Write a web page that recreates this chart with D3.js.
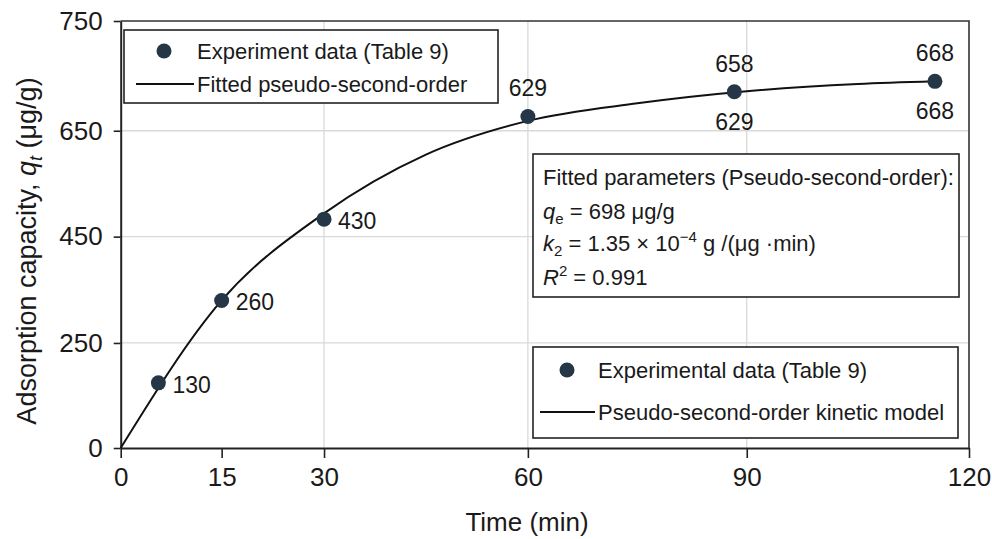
<!DOCTYPE html>
<html><head><meta charset="utf-8">
<script src="https://cdn.jsdelivr.net/npm/d3@7"></script>
<style>
body{margin:0;background:#fff}
svg{display:block}
text{font-family:"Liberation Sans",Arial,sans-serif;fill:#1a1a1a}
</style>
</head><body>
<svg id="c" width="992" height="539"></svg>
<script>
// ---- data ----
const xTicks = [0, 15, 30, 60, 90, 120];
const yTicks = [0, 250, 450, 650, 750];
const expTime = [5.6, 15, 30, 60, 88.3, 115.4];
const expQ = [155, 330, 483, 663, 685.5, 695];
const expLabels = ["130", "260", "430", "629", "658", "668"];
const expLabelsBelow = ["", "", "", "", "629", "668"];
const fitTime = [0, 15, 30, 45, 60, 75, 90, 105, 115.4];
const fitQ = [0, 330, 494, 605, 659, 675, 686, 692.5, 695];
const gridX = [30, 60, 90];
const gridY = [250, 450, 650];

// ---- layout ----
const svg = d3.select("#c");
const L = 120.7, R = 969, T = 21, B = 448;
const xFrac = [0, 0.119, 0.2397, 0.480, 0.738, 1];
const yFrac = [0, 0.246, 0.495, 0.743, 1];
const x = d3.scaleLinear().domain(xTicks).range(xFrac.map(f => L + f * (R - L)));
const y = d3.scaleLinear().domain(yTicks).range(yFrac.map(f => B - f * (B - T)));

// grid
svg.append("g").selectAll("line").data(gridY).join("line")
  .attr("x1", L).attr("x2", R).attr("y1", d => y(d)).attr("y2", d => y(d))
  .attr("stroke", "#d9d9d9").attr("stroke-width", 1.3);
svg.append("g").selectAll("line").data(gridX).join("line")
  .attr("y1", T).attr("y2", B).attr("x1", d => x(d)).attr("x2", d => x(d))
  .attr("stroke", "#d9d9d9").attr("stroke-width", 1.3);

// frame top/right
svg.append("path").attr("d", `M${L},${T}H${R}V${B}`)
  .attr("fill", "none").attr("stroke", "#333").attr("stroke-width", 1.6);

// axes
const xa = svg.append("g").attr("transform", `translate(0,${B})`)
  .call(d3.axisBottom(x).tickValues(xTicks).tickSize(10).tickSizeOuter(0).tickPadding(10).tickFormat(d => d));
const ya = svg.append("g").attr("transform", `translate(${L},0)`)
  .call(d3.axisLeft(y).tickValues(yTicks).tickSize(7).tickSizeOuter(0).tickPadding(11).tickFormat(d => d));
[xa, ya].forEach(a => {
  a.select(".domain").attr("stroke", "#222").attr("stroke-width", 2);
  a.selectAll(".tick line").attr("stroke", "#222").attr("stroke-width", 1.6);
  a.selectAll(".tick text").attr("font-size", 26).attr("fill", "#1a1a1a")
    .style("font-family", '"Liberation Sans",Arial,sans-serif');
});

// axis titles
svg.append("text").attr("x", 527).attr("y", 531).attr("text-anchor", "middle")
  .attr("font-size", 26).text("Time (min)");
const yt = svg.append("text").attr("transform", "translate(36,251) rotate(-90)")
  .attr("text-anchor", "middle").attr("font-size", 27);
yt.append("tspan").text("Adsorption capacity, ");
yt.append("tspan").attr("font-style", "italic").text("q");
yt.append("tspan").attr("font-style", "italic").attr("font-size", 18).attr("dy", 6).text("t");
yt.append("tspan").attr("dy", -6).text(" (μg/g)");

// fitted curve
const fit = fitTime.map((t, i) => [t, fitQ[i]]);
svg.append("path").datum(fit)
  .attr("d", d3.line().x(d => x(d[0])).y(d => y(d[1])).curve(d3.curveMonotoneX))
  .attr("fill", "none").attr("stroke", "#111").attr("stroke-width", 2);

// points
const pts = expTime.map((t, i) => ({ t, q: expQ[i], lab: expLabels[i], below: expLabelsBelow[i], i }));
svg.append("g").selectAll("circle").data(pts).join("circle")
  .attr("cx", d => x(d.t)).attr("cy", d => y(d.q)).attr("r", 7.5).attr("fill", "#253746");

// labels
svg.append("g").selectAll("text").data(pts).join("text")
  .attr("font-size", 23)
  .attr("x", d => d.i < 3 ? x(d.t) + 14 : x(d.t))
  .attr("y", d => d.i < 3 ? y(d.q) + 10 : y(d.q) - 20)
  .attr("text-anchor", d => d.i < 3 ? "start" : "middle")
  .text(d => d.lab);
svg.append("g").selectAll("text").data(pts.filter(d => d.below)).join("text")
  .attr("font-size", 23).attr("text-anchor", "middle")
  .attr("x", d => x(d.t)).attr("y", d => y(d.q) + 38).text(d => d.below);

// legend 1
const lg1 = svg.append("g");
lg1.append("rect").attr("x", 124).attr("y", 30).attr("width", 374).attr("height", 73)
  .attr("fill", "#fff").attr("stroke", "#222").attr("stroke-width", 1.6);
lg1.append("circle").attr("cx", 164).attr("cy", 51).attr("r", 7.5).attr("fill", "#253746");
lg1.append("text").attr("x", 197).attr("y", 59).attr("font-size", 22).text("Experiment data (Table 9)");
lg1.append("line").attr("x1", 136).attr("x2", 194).attr("y1", 84).attr("y2", 84).attr("stroke", "#111").attr("stroke-width", 2);
lg1.append("text").attr("x", 197).attr("y", 92).attr("font-size", 22).text("Fitted pseudo-second-order");

// params box
const pb = svg.append("g");
pb.append("rect").attr("x", 533).attr("y", 154).attr("width", 426).attr("height", 143)
  .attr("fill", "#fff").attr("stroke", "#222").attr("stroke-width", 1.6);
pb.append("text").attr("x", 543).attr("y", 185).attr("font-size", 22).text("Fitted parameters (Pseudo-second-order):");
const t2 = pb.append("text").attr("x", 543).attr("y", 219).attr("font-size", 22);
t2.append("tspan").attr("font-style", "italic").text("q");
t2.append("tspan").attr("font-size", 15).attr("dy", 5).text("e");
t2.append("tspan").attr("dy", -5).text(" = 698 μg/g");
const t3 = pb.append("text").attr("x", 543).attr("y", 251).attr("font-size", 22);
t3.append("tspan").attr("font-style", "italic").text("k");
t3.append("tspan").attr("font-size", 15).attr("dy", 5).text("2");
t3.append("tspan").attr("dy", -5).text(" = 1.35 × 10");
t3.append("tspan").attr("font-size", 15).attr("dy", -9).text("−4");
t3.append("tspan").attr("dy", 9).text(" g /(μg ·min)");
const t4 = pb.append("text").attr("x", 543).attr("y", 285).attr("font-size", 22);
t4.append("tspan").attr("font-style", "italic").text("R");
t4.append("tspan").attr("font-size", 15).attr("dy", -9).text("2");
t4.append("tspan").attr("dy", 9).text(" = 0.991");

// legend 2
const lg2 = svg.append("g");
lg2.append("rect").attr("x", 533).attr("y", 347).attr("width", 425).attr("height", 91)
  .attr("fill", "#fff").attr("stroke", "#222").attr("stroke-width", 1.6);
lg2.append("circle").attr("cx", 567).attr("cy", 370).attr("r", 7.5).attr("fill", "#253746");
lg2.append("text").attr("x", 598).attr("y", 378).attr("font-size", 22).text("Experimental data (Table 9)");
lg2.append("line").attr("x1", 540).attr("x2", 595).attr("y1", 412).attr("y2", 412).attr("stroke", "#111").attr("stroke-width", 2);
lg2.append("text").attr("x", 598).attr("y", 420).attr("font-size", 22).text("Pseudo-second-order kinetic model");
</script>
</body></html>
